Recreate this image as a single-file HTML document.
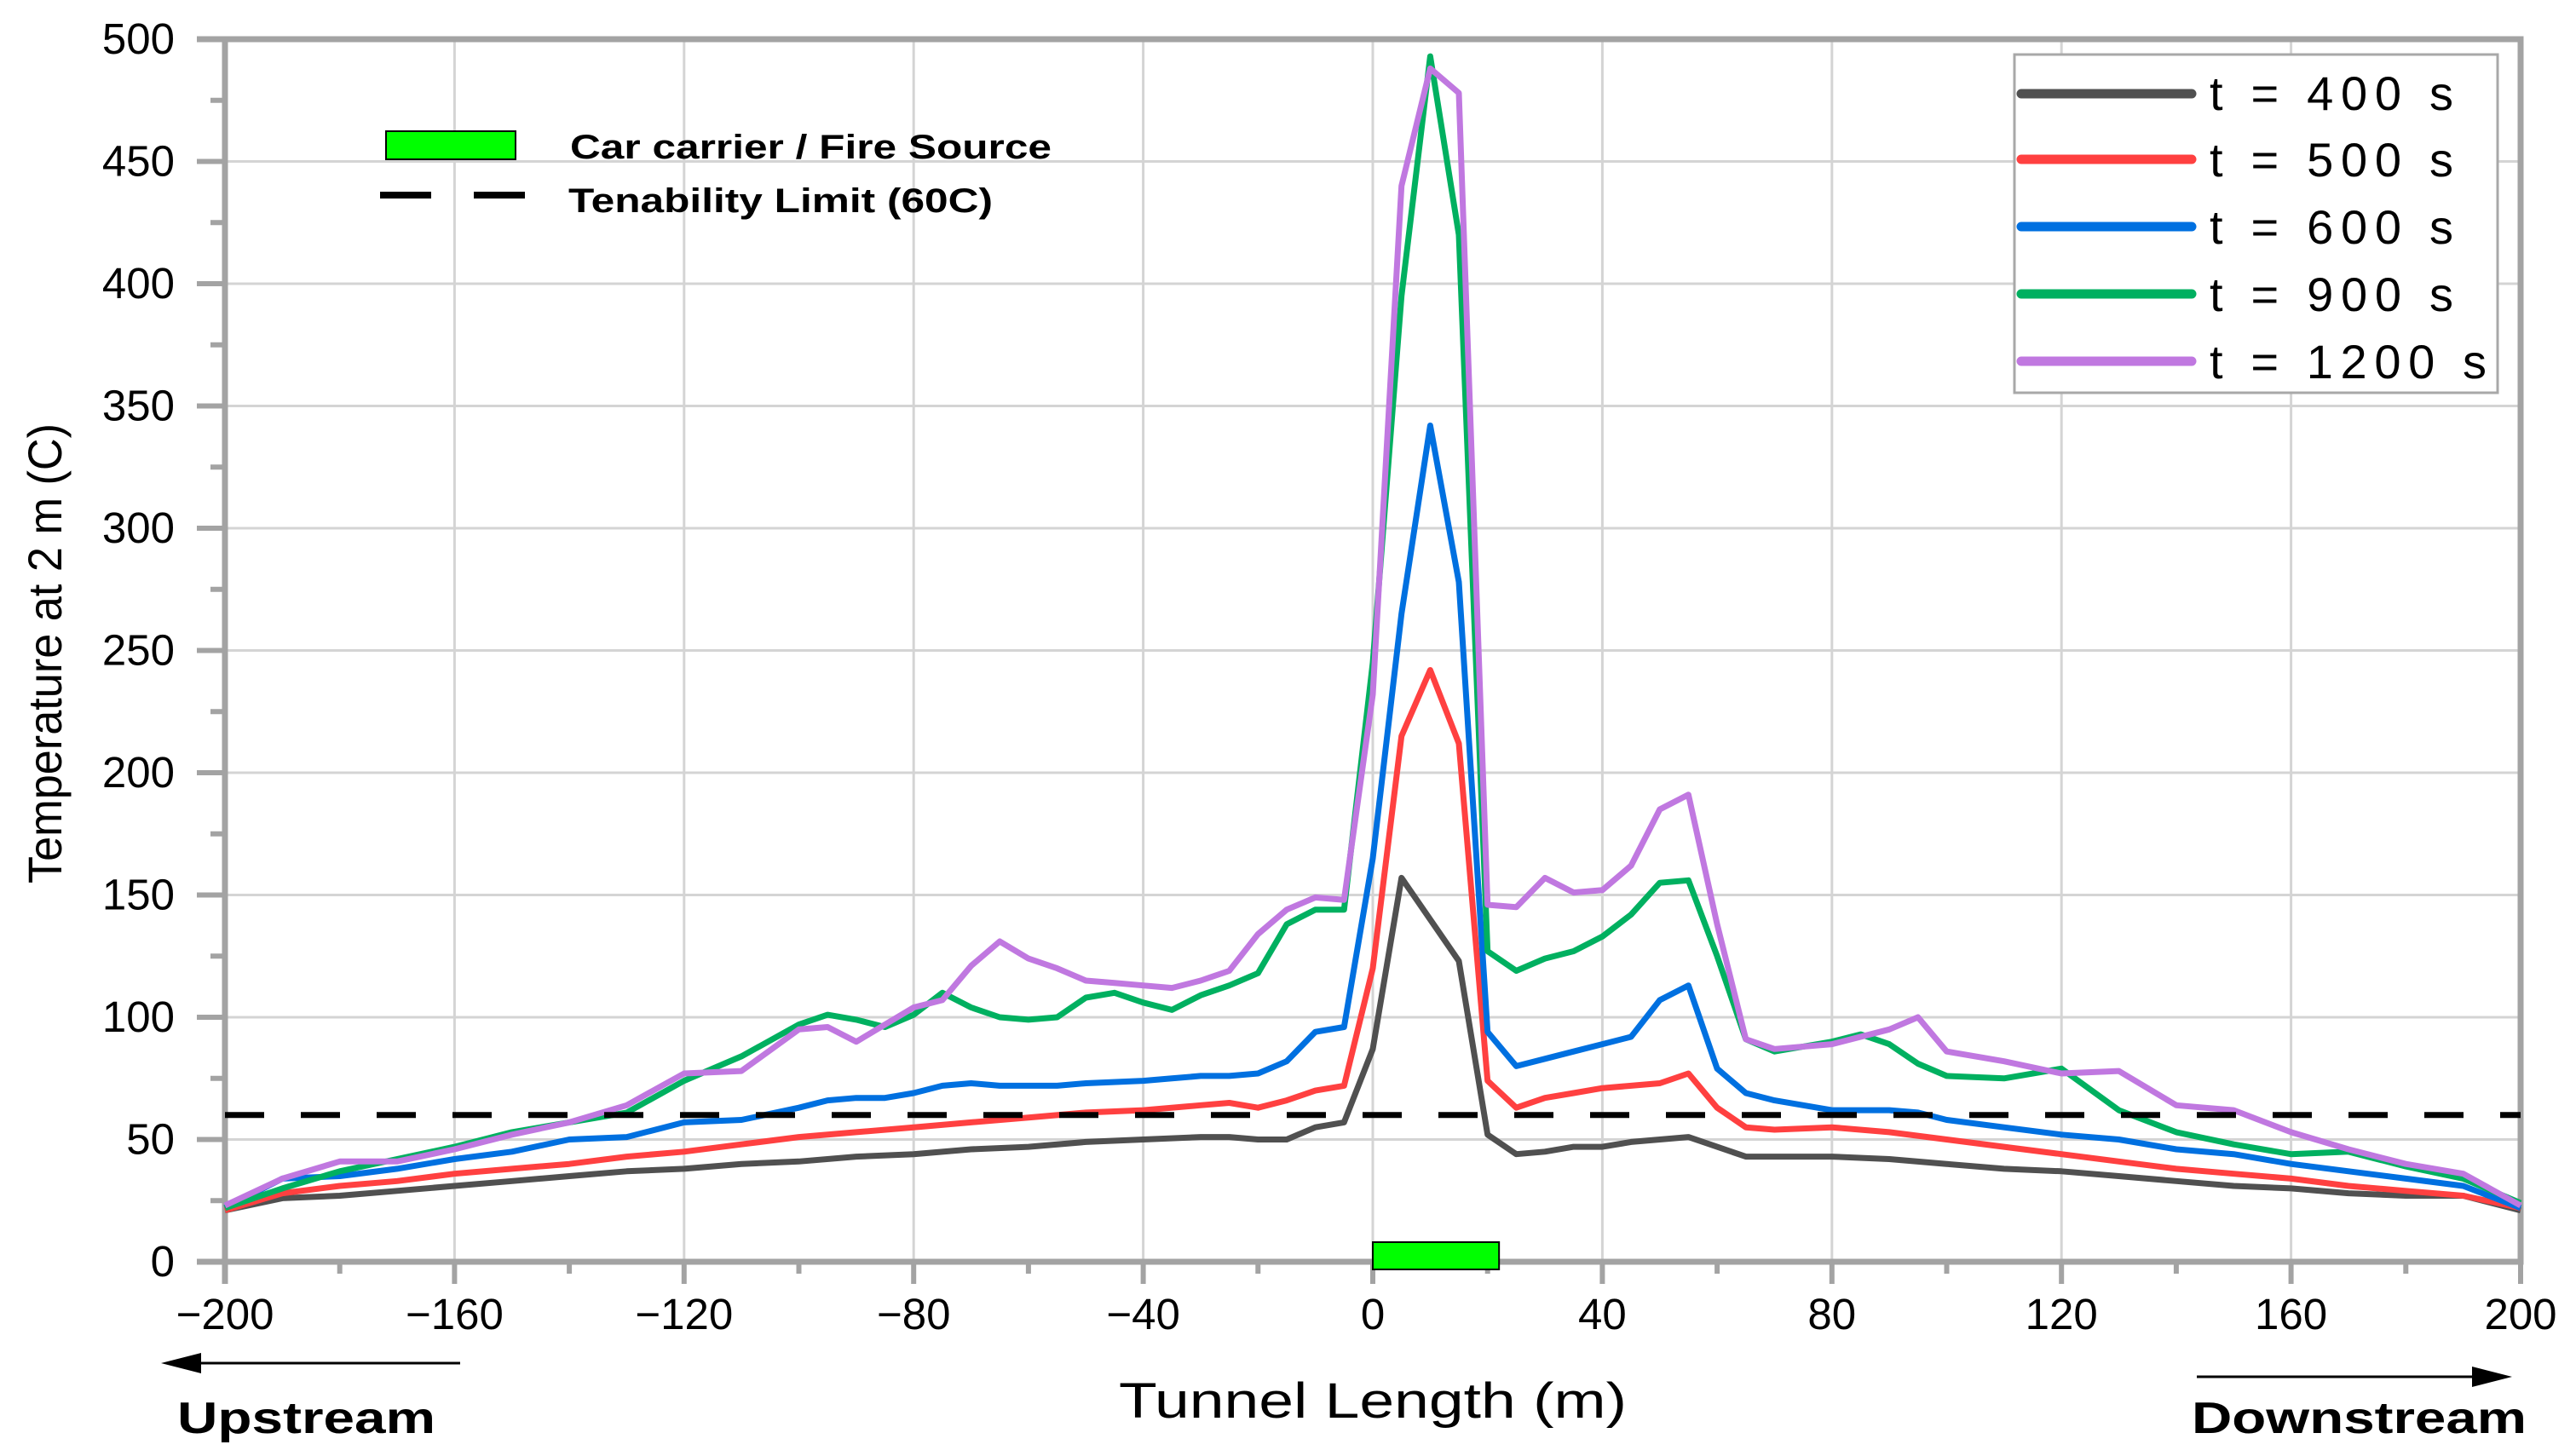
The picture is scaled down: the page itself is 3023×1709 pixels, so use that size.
<!DOCTYPE html>
<html><head><meta charset="utf-8"><style>
html,body{margin:0;padding:0;background:#fff;}
svg{display:block;font-family:"Liberation Sans","DejaVu Sans",sans-serif;}
</style></head><body>
<svg id="chart" width="3023" height="1709" viewBox="0 0 3023 1709" xmlns="http://www.w3.org/2000/svg">
<g id="grid"></g>
<g id="axes"></g>
<g id="series"></g>
<g id="annot"></g>
</svg>
<script>
const xTicks = [-200,-160,-120,-80,-40,0,40,80,120,160,200];
const xTickLabels = ["\u2212200","\u2212160","\u2212120","\u221280","\u221240","0","40","80","120","160","200"];
const yTicks = [0,50,100,150,200,250,300,350,400,450,500];
const yTickLabels = ["0","50","100","150","200","250","300","350","400","450","500"];
const tenabilityLimit = 60;
const fireSource = [0, 22];

const x400 = [-200,-190,-180,-170,-160,-150,-140,-130,-120,-110,-100,-90,-80,-70,-60,-50,-40,-30,-25,-20,-15,-10,-5,0,5,10,15,20,25,30,35,40,45,50,55,60,65,70,80,90,100,110,120,130,140,150,160,170,180,190,200];
const y400 = [21,26,27,29,31,33,35,37,38,40,41,43,44,46,47,49,50,51,51,50,50,55,57,87,157,140,123,52,44,45,47,47,49,50,51,47,43,43,43,42,40,38,37,35,33,31,30,28,27,27,21];

const x500 = [-200,-190,-180,-170,-160,-150,-140,-130,-120,-110,-100,-90,-80,-70,-60,-50,-40,-30,-25,-20,-15,-10,-5,0,5,10,15,20,25,30,35,40,45,50,55,60,65,70,80,90,100,110,120,130,140,150,160,170,180,190,200];
const y500 = [21,28,31,33,36,38,40,43,45,48,51,53,55,57,59,61,62,64,65,63,66,70,72,120,215,242,212,74,63,67,69,71,72,73,77,63,55,54,55,53,50,47,44,41,38,36,34,31,29,27,22];

const x600 = [-200,-190,-180,-170,-160,-150,-140,-130,-120,-110,-100,-95,-90,-85,-80,-75,-70,-65,-60,-55,-50,-40,-35,-30,-25,-20,-15,-10,-5,0,5,10,15,20,25,30,35,40,45,50,55,60,65,70,75,80,90,95,100,110,120,130,140,150,160,170,180,190,200];
const y600 = [22,34,35,38,42,45,50,51,57,58,63,66,67,67,69,72,73,72,72,72,73,74,75,76,76,77,82,94,96,165,265,342,278,94,80,83,86,89,92,107,113,79,69,66,64,62,62,61,58,55,52,50,46,44,40,37,34,31,22];

const x900 = [-200,-190,-180,-170,-160,-150,-140,-130,-120,-110,-100,-95,-90,-85,-80,-75,-70,-65,-60,-55,-50,-45,-40,-35,-30,-25,-20,-15,-10,-5,0,5,10,15,20,25,30,35,40,45,50,55,60,65,70,75,80,85,90,95,100,110,120,130,140,150,160,170,180,190,200];
const y900 = [22,30,37,42,47,53,57,61,74,84,97,101,99,96,101,110,104,100,99,100,108,110,106,103,109,113,118,138,144,144,245,395,493,420,127,119,124,127,133,142,155,156,125,91,86,88,90,93,89,81,76,75,79,62,53,48,44,45,39,34,24];

const x1200 = [-200,-190,-180,-170,-160,-150,-140,-130,-120,-110,-100,-95,-90,-85,-80,-75,-70,-65,-60,-55,-50,-45,-40,-35,-30,-25,-20,-15,-10,-5,0,5,10,15,20,25,30,35,40,45,50,55,60,65,70,80,90,95,100,110,120,130,140,150,160,170,180,190,200];
const y1200 = [23,34,41,41,46,52,57,64,77,78,95,96,90,97,104,107,121,131,124,120,115,114,113,112,115,119,134,144,149,148,232,440,488,478,146,145,157,151,152,162,185,191,138,91,87,89,95,100,86,82,77,78,64,62,53,46,40,36,23];

const seriesNames = ["t = 400 s","t = 500 s","t = 600 s","t = 900 s","t = 1200 s"];
const seriesColors = ["#505050","#ff4040","#0070e0","#00b060","#c078e0"];

const X0=264, X1=2958, Y0=1481, Y1=46;
function sx(v){return X0+(v+200)/400*(X1-X0);}
function sy(v){return Y0-v/500*(Y0-Y1);}
const NS="http://www.w3.org/2000/svg";
function mk(tag,attrs,parent){const e=document.createElementNS(NS,tag);for(const k in attrs)e.setAttribute(k,attrs[k]);parent.appendChild(e);return e;}
const grid=document.getElementById('grid'),axes=document.getElementById('axes'),ser=document.getElementById('series'),ann=document.getElementById('annot');

xTicks.forEach((t,i)=>{ if(i>0&&i<xTicks.length-1){const l=mk('line',{x1:sx(t),x2:sx(t),y1:Y1,y2:Y0,stroke:'#d4d4d4','stroke-width':3},grid);

}});
yTicks.forEach((t,i)=>{ if(i>0&&i<yTicks.length-1){const l=mk('line',{x1:X0,x2:X1,y1:sy(t),y2:sy(t),stroke:'#d4d4d4','stroke-width':3},grid);

}});

const frame=mk('path',{d:`M${X0-33},${Y1}H${X1}V${Y0}H${X0-33}M${X0},${Y1}V${Y0+26}`,fill:'none',stroke:'#a3a3a3','stroke-width':7},axes);


for(let v=-200;v<=200;v+=20){const major=(v%40===0);const t=mk('line',{x1:sx(v),x2:sx(v),y1:Y0,y2:Y0+(major?26:14),stroke:'#a3a3a3','stroke-width':6},axes);

}
for(let v=0;v<=500;v+=25){const major=(v%50===0);const t=mk('line',{x1:X0,x2:X0-(major?33:17),y1:sy(v),y2:sy(v),stroke:'#a3a3a3','stroke-width':6},axes);

}
xTicks.forEach((t,i)=>{const e=mk('text',{x:sx(t),y:1560,'font-size':51,'text-anchor':'middle',fill:'#000'},axes);e.textContent=xTickLabels[i];

});
yTicks.forEach((t,i)=>{const e=mk('text',{x:205,y:sy(t)+17,'font-size':51,'text-anchor':'end',fill:'#000'},axes);e.textContent=yTickLabels[i];

});

const ten=mk('line',{x1:X0,x2:X1,y1:sy(tenabilityLimit),y2:sy(tenabilityLimit),stroke:'#000','stroke-width':7,'stroke-dasharray':'46 43'},ann);



const xs=[x400,x500,x600,x900,x1200], ys=[y400,y500,y600,y900,y1200];
xs.forEach((xa,s)=>{const d=xa.map((x,i)=>(i?'L':'M')+sx(x).toFixed(1)+','+sy(ys[s][i]).toFixed(1)).join('');
const p=mk('path',{d:d,fill:'none',stroke:seriesColors[s],'stroke-width':7,'stroke-linejoin':'round'},ser);

});

const fr=mk('rect',{x:sx(fireSource[0]),y:1458,width:sx(fireSource[1])-sx(fireSource[0]),height:32,fill:'#00ff00',stroke:'#000','stroke-width':2},ann);


</script>
<svg style="position:absolute;left:0;top:0" width="3023" height="1709">
<g>
<rect x="2364" y="64" width="567" height="397" fill="#fff" stroke="#a8a8a8" stroke-width="3"/>
<line x1="2372" x2="2572" y1="110" y2="110" stroke="#505050" stroke-width="11" stroke-linecap="round"/>
<line x1="2372" x2="2572" y1="187" y2="187" stroke="#ff4040" stroke-width="11" stroke-linecap="round"/>
<line x1="2372" x2="2572" y1="266" y2="266" stroke="#0070e0" stroke-width="11" stroke-linecap="round"/>
<line x1="2372" x2="2572" y1="345" y2="345" stroke="#00b060" stroke-width="11" stroke-linecap="round"/>
<line x1="2372" x2="2572" y1="424" y2="424" stroke="#c078e0" stroke-width="11" stroke-linecap="round"/>
<text x="2593" y="129" font-size="56" textLength="286" font-family="Liberation Sans, sans-serif">t = 400 s</text>
<text x="2593" y="207" font-size="56" textLength="286" font-family="Liberation Sans, sans-serif">t = 500 s</text>
<text x="2593" y="286" font-size="56" textLength="286" font-family="Liberation Sans, sans-serif">t = 600 s</text>
<text x="2593" y="365" font-size="56" textLength="286" font-family="Liberation Sans, sans-serif">t = 900 s</text>
<text x="2593" y="444" font-size="56" textLength="325" font-family="Liberation Sans, sans-serif">t = 1200 s</text>
</g>
<g>
<rect x="453" y="154" width="152" height="33" fill="#00ff00" stroke="#000" stroke-width="2"/>
<line x1="446" x2="506" y1="229" y2="229" stroke="#000" stroke-width="8"/>
<line x1="556" x2="616" y1="229" y2="229" stroke="#000" stroke-width="8"/>
<text x="669" y="186" font-size="40" font-weight="bold" textLength="565" lengthAdjust="spacingAndGlyphs" font-family="Liberation Sans, sans-serif">Car carrier / Fire Source</text>
<text x="667" y="249" font-size="40" font-weight="bold" textLength="498" lengthAdjust="spacingAndGlyphs" font-family="Liberation Sans, sans-serif">Tenability Limit (60C)</text>
</g>
<text transform="translate(72,767) rotate(-90)" text-anchor="middle" font-size="56" textLength="540" lengthAdjust="spacingAndGlyphs" font-family="Liberation Sans, sans-serif">Temperature at 2 m (C)</text>
<text x="1611" y="1664" text-anchor="middle" font-size="58" textLength="596" lengthAdjust="spacingAndGlyphs" font-family="Liberation Sans, sans-serif">Tunnel Length (m)</text>
<g>
<line x1="540" x2="225" y1="1600" y2="1600" stroke="#000" stroke-width="3"/>
<polygon points="189,1600 236,1588 236,1612" fill="#000"/>
</g>
<g>
<line x1="2578" x2="2910" y1="1616" y2="1616" stroke="#000" stroke-width="3"/>
<polygon points="2948,1616 2901,1604 2901,1628" fill="#000"/>
</g>
<text x="208" y="1682" font-size="52" font-weight="bold" textLength="303" lengthAdjust="spacingAndGlyphs" font-family="Liberation Sans, sans-serif">Upstream</text>
<text x="2572" y="1682" font-size="52" font-weight="bold" textLength="393" lengthAdjust="spacingAndGlyphs" font-family="Liberation Sans, sans-serif">Downstream</text>
</svg>
</body></html>
